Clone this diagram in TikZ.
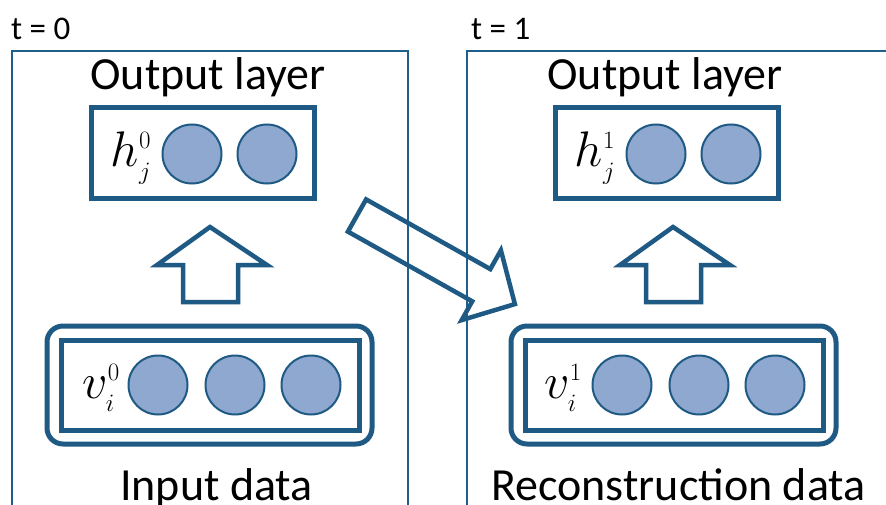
\documentclass[tikz,border=0pt]{standalone}
\usepackage{fix-cm}
\usepackage{fontspec}
\setmainfont{Carlito}
\DeclareMathSizes{50}{50}{25}{18}
\definecolor{edge}{HTML}{1F5A84}
\definecolor{unitfill}{HTML}{8EA8CF}
\definecolor{framecol}{HTML}{1F5F8B}

\tikzset{
  frame/.style={draw=framecol, line width=2.5pt},
  layerbox/.style={rectangle, draw=edge, line width=5pt, inner sep=0pt},
  unit/.style={circle, draw=edge, line width=2pt, fill=unitfill, minimum size=59pt, inner sep=0pt},
  blockarrow/.style={draw=edge, line width=4.5pt, line join=miter},
  caption/.style={font=\fontsize{46}{54}\selectfont, inner sep=0pt, anchor=base},
  timelabel/.style={font=\fontsize{33}{38}\selectfont, inner sep=0pt, anchor=base west},
  mathlabel/.style={font=\fontsize{50}{58}\selectfont, inner sep=0pt},
}

\begin{document}
\begin{tikzpicture}[x=1pt,y=-1pt]
\clip (0,0) rectangle (886,505);
\fill[white] (0,0) rectangle (886,505);

% time-step frames (open towards the bottom edge)
\draw[frame] (12,530) rectangle (408,51);
\draw[frame] (467,530) rectangle (920,51);

% ---------- t = 0 ----------
\node[timelabel] (t0) at (11,40) {t = 0};
\node[caption] (out0) at (208,90) {Output layer};
\node[layerbox, minimum width=223pt, minimum height=91pt] (hbox0) at (202.5,153.5) {};
\node[mathlabel] (hl0) at (131,158) {$h_{j}^{0}$};
\node[unit] (h0a) at (192,154) {};
\node[unit] (h0b) at (267,154) {};

\draw[blockarrow] (210,227) -- (267,265) -- (238,265) -- (238,302)
  -- (183,302) -- (183,265) -- (157,265) -- cycle;

\node[layerbox, rounded corners=16pt, minimum width=325pt, minimum height=118pt] (vout0) at (209.5,385) {};
\node[layerbox, minimum width=298pt, minimum height=90pt] (vbox0) at (210,385) {};
\node[mathlabel] (vl0) at (101,388) {$v_{i}^{0}$};
\node[unit] (v0a) at (158,385) {};
\node[unit] (v0b) at (235,385) {};
\node[unit] (v0c) at (311,385) {};
\node[caption] (in0) at (216.5,500) {Input data};

% ---------- t = 1 ----------
\node[timelabel] (t1) at (471,40) {t = 1};
\node[caption] (out1) at (665,90) {Output layer};
\node[layerbox, minimum width=223pt, minimum height=91pt] (hbox1) at (666.5,153.5) {};
\node[mathlabel] (hl1) at (595,158) {$h_{j}^{1}$};
\node[unit] (h1a) at (656,154) {};
\node[unit] (h1b) at (731,154) {};

\draw[blockarrow] (673,227) -- (730,265) -- (701,265) -- (701,302)
  -- (646,302) -- (646,265) -- (620,265) -- cycle;

\node[layerbox, rounded corners=16pt, minimum width=325pt, minimum height=118pt] (vout1) at (673.5,385) {};
\node[layerbox, minimum width=298pt, minimum height=90pt] (vbox1) at (674,385) {};
\node[mathlabel] (vl1) at (563,388) {$v_{i}^{1}$};
\node[unit] (v1a) at (622,385) {};
\node[unit] (v1b) at (699,385) {};
\node[unit] (v1c) at (775,385) {};
\node[caption] (in1) at (678.5,500) {Reconstruction data};

% hollow arrow carrying the state from t = 0 to t = 1
\draw[blockarrow] (366.1,199.4) -- (490.3,269.1) -- (500.9,250.3) -- (514.9,304.1)
  -- (461.7,320.1) -- (472.2,301.3) -- (347.9,231.6) -- cycle;
\end{tikzpicture}
\end{document}
